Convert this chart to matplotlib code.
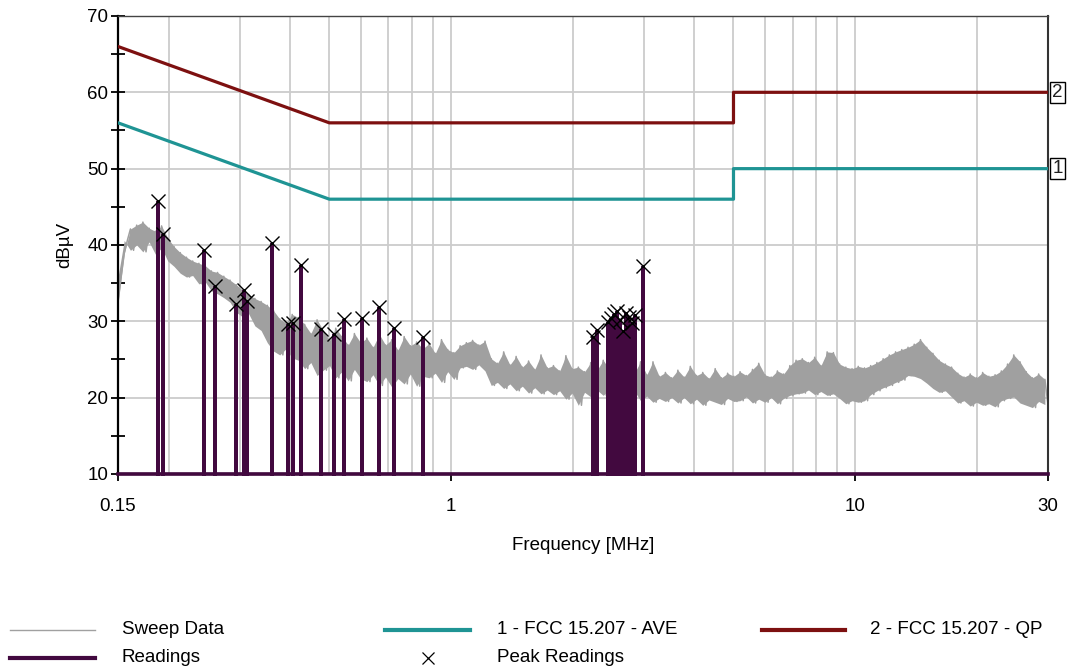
import numpy as np
import matplotlib
matplotlib.use('Agg')
import matplotlib.pyplot as plt
from matplotlib.lines import Line2D
import matplotlib.transforms as mtransforms

plt.rcParams['font.family'] = ['Liberation Sans', 'DejaVu Sans']

# Sweep data (dBuV), read left to right across 0.15 - 30 MHz
sweep_dbuv = [
    32.5, 35.8, 38.9, 40.6, 42.1, 39.3, 42.6, 40.0, 43.0, 39.1, 42.2, 40.4, 41.8, 38.8, 42.5, 39.6, 40.9, 37.9, 39.8, 37.2,
    39.0, 36.3, 38.4, 35.8, 37.9, 36.0, 37.6, 34.9, 37.3, 35.2, 36.6, 34.0, 36.4, 33.6, 35.9, 33.1, 35.4, 32.5, 34.8, 31.2,
    34.1, 30.6, 33.5, 31.0, 33.0, 29.4, 32.6, 28.8, 32.1, 27.2, 31.4, 26.1, 30.3, 25.6, 29.8, 26.4, 30.9, 25.2, 30.5, 24.9,
    29.6, 23.8, 28.4, 24.6, 30.2, 22.9, 28.8, 23.6, 27.5, 24.2, 29.1, 22.6, 28.0, 23.4, 26.9, 22.2, 28.4, 23.7, 27.2, 22.5,
    27.8, 22.1, 26.6, 23.0, 28.3, 21.6, 26.9, 22.7, 27.6, 21.4, 26.2, 22.5, 28.0, 21.8, 26.8, 23.1, 27.3, 21.5, 26.4, 22.8,
    27.1, 22.6, 25.8, 23.2, 27.6, 22.0, 26.3, 23.4, 25.9, 22.4, 26.8, 23.9, 27.2, 24.1, 27.5, 23.7, 26.9, 24.3, 27.4, 23.5,
    25.1, 21.6, 24.5, 22.0, 26.0, 21.2, 24.3, 21.8, 25.4, 20.9, 24.0, 21.5, 24.8, 20.6, 23.7, 21.3, 25.6, 20.5, 23.9, 21.0,
    24.2, 20.4, 23.5, 20.9, 25.5, 19.8, 23.8, 20.6, 24.0, 19.0, 23.4, 20.7, 24.6, 20.1, 23.6, 21.0, 24.9, 20.3, 23.7, 21.1,
    24.5, 20.8, 23.9, 21.2, 24.3, 20.5, 23.2, 20.9, 24.7, 19.6, 23.0, 20.2, 24.7, 19.4, 22.8, 19.9, 23.3, 19.5, 22.6, 20.0,
    23.6, 19.3, 22.7, 20.0, 24.1, 19.2, 22.9, 19.8, 23.3, 19.0, 22.5, 19.7, 23.8, 19.4, 22.6, 19.1, 23.2, 19.9, 22.8, 19.5,
    23.4, 19.6, 22.9, 20.1, 23.7, 19.3, 24.5, 19.8, 23.0, 19.4, 22.7, 20.0, 23.5, 19.2, 23.1, 19.9, 24.2, 20.3, 24.9, 20.5,
    25.1, 20.6, 24.6, 21.0, 25.3, 20.4, 24.2, 20.8, 26.0, 20.3, 25.9, 20.5, 24.4, 19.9, 24.0, 19.2, 23.8, 19.6, 24.1, 19.4,
    23.9, 19.6, 24.2, 20.4, 24.6, 20.9, 25.1, 21.3, 25.6, 21.6, 26.0, 22.0, 26.3, 22.3, 26.6, 22.9, 27.0, 22.8, 27.6, 22.5,
    26.6, 21.9, 25.8, 21.2, 24.9, 20.7, 24.4, 20.9, 24.0, 20.1, 23.2, 19.3, 22.7, 19.6, 23.1, 18.9, 22.6, 19.4, 23.3, 19.0,
    22.8, 19.2, 23.0, 18.8, 23.5, 19.6, 24.4, 19.9, 25.6, 20.1, 24.7, 19.3, 23.4, 19.0, 22.6, 18.7, 23.1, 19.5, 22.4, 19.1,
]
# analyser sweep grid (log spaced over the span)
sweep_mhz = np.geomspace(0.15, 30, len(sweep_dbuv))

# Peak readings
peak_mhz = [0.1887, 0.1942, 0.2454, 0.2608, 0.2934, 0.3067, 0.3121, 0.3614, 0.3946, 0.4060,
            0.4244, 0.4756, 0.5124, 0.5447, 0.6016, 0.6639, 0.7244, 0.8517,
            2.247, 2.300, 2.448, 2.490, 2.533, 2.577, 2.621, 2.667, 2.713, 2.759, 2.807, 2.855, 2.984]
peak_dbuv = [45.7, 41.5, 39.4, 34.6, 32.3, 34.1, 32.6, 40.2, 29.7, 29.8,
             37.4, 29.0, 28.4, 30.3, 30.5, 31.9, 29.1, 28.0,
             27.9, 28.9, 29.9, 30.4, 31.0, 31.4, 30.2, 28.7, 31.1, 30.6, 29.8, 30.8, 37.2]

# FCC 15.207 limits
limit_mhz = [0.15, 0.5, 5.0, 5.0, 30.0]
qp_limit = [66, 56, 56, 60, 60]
ave_limit = [56, 46, 46, 50, 50]

C_SWEEP = '#a0a0a0'
C_READ = '#42093f'
C_AVE = '#1f9494'
C_QP = '#7d1010'
FS = 13.5

fig = plt.figure(figsize=(10.71, 6.71), dpi=100)
ax = fig.add_axes([0.1102, 0.2936, 0.8683, 0.6826])

ax.set_xscale('log')
ax.set_xlim(0.15, 30)
ax.set_ylim(10, 70)

# grid
ax.set_xticks([0.15, 1, 10, 30])
ax.set_xticklabels(['0.15', '1', '10', '30'])
ax.set_xticks([0.2, 0.3, 0.4, 0.5, 0.6, 0.7, 0.8, 0.9, 2, 3, 4, 5, 6, 7, 8, 9, 20], minor=True)
ax.xaxis.set_minor_formatter(matplotlib.ticker.NullFormatter())
ax.set_yticks([10, 20, 30, 40, 50, 60, 70])
ax.set_yticks([15, 25, 35, 45, 55, 65], minor=True)
for f in [0.2, 0.3, 0.4, 0.5, 0.6, 0.7, 0.8, 0.9, 1, 2, 3, 4, 5, 6, 7, 8, 9, 10, 20]:
    ax.axvline(f, color='#cccccc', lw=1.3, zorder=0)
for v in [20, 30, 40, 50, 60]:
    ax.axhline(v, color='#cccccc', lw=1.3, zorder=0)

ax.tick_params(axis='y', which='both', direction='inout', length=10, width=1.3,
               labelsize=FS, pad=2)
ax.tick_params(axis='x', which='major', direction='out', length=5, width=1.3,
               labelsize=FS, pad=12)
ax.tick_params(axis='x', which='minor', length=0)

for s in ['left', 'bottom']:
    ax.spines[s].set_linewidth(1.6)
    ax.spines[s].set_color('black')
ax.spines['right'].set_linewidth(1.5)
ax.spines['right'].set_color('#333333')
ax.spines['top'].set_linewidth(1.0)
ax.spines['top'].set_color('#444444')

# sweep trace: dense band between the alternating high / low samples
band_x = sweep_mhz[0::2]
ax.fill_between(band_x, sweep_dbuv[1::2], sweep_dbuv[0::2], color=C_SWEEP, lw=0, zorder=2)
ax.plot(sweep_mhz, sweep_dbuv, color=C_SWEEP, lw=1.1, zorder=2)

# readings as vertical bars from the floor
rx = [0.15]
ry = [10]
for f, v in zip(peak_mhz, peak_dbuv):
    rx += [f, f, f]
    ry += [10, v, 10]
rx.append(30)
ry.append(10)
ax.plot(rx, ry, color=C_READ, lw=2.6, zorder=3, clip_on=False, solid_joinstyle='miter')
ax.plot(peak_mhz, peak_dbuv, ls='none', marker='x', ms=10, mew=1.0, color='black', zorder=4)

# limits
ax.plot(limit_mhz, ave_limit, color=C_AVE, lw=2.3, zorder=3)
ax.plot(limit_mhz, qp_limit, color=C_QP, lw=2.3, zorder=3)

trans = mtransforms.blended_transform_factory(ax.transAxes, ax.transData)
for lbl, lvl in [('1', ave_limit[-1]), ('2', qp_limit[-1])]:
    ax.text(1.0045, lvl, lbl, transform=trans, ha='left', va='center', fontsize=FS,
            color='#202020',
            bbox=dict(boxstyle='square,pad=0.12', fc='white', ec='black', lw=1.0))

ax.set_xlabel('Frequency [MHz]', fontsize=FS, labelpad=16)
ax.set_ylabel('dBµV', fontsize=FS, labelpad=10)

# legend, laid out in two rows below the plot
row_y = [1 - 630 / 671, 1 - 658 / 671]
entries = [
    (0.0093, 0.0887, 0.1139, row_y[0], 'Sweep Data', dict(color=C_SWEEP, lw=1.0)),
    (0.0093, 0.0887, 0.1139, row_y[1], 'Readings', dict(color=C_READ, lw=3.0)),
    (0.3595, 0.4388, 0.4641, row_y[0], '1 - FCC 15.207 - AVE', dict(color=C_AVE, lw=3.0)),
    (0.7115, 0.7890, 0.8123, row_y[0], '2 - FCC 15.207 - QP', dict(color=C_QP, lw=3.0)),
]
for x0, x1, tx, y, label, style in entries:
    fig.add_artist(Line2D([x0, x1], [y, y], transform=fig.transFigure, **style))
    fig.text(tx, y, label, fontsize=FS, va='center', ha='left')
fig.add_artist(Line2D([0.3996], [row_y[1]], transform=fig.transFigure, ls='none',
                      marker='x', ms=9, mew=0.9, color='black'))
fig.text(0.4641, row_y[1], 'Peak Readings', fontsize=FS, va='center', ha='left')

fig.savefig('out.png', dpi=100)
